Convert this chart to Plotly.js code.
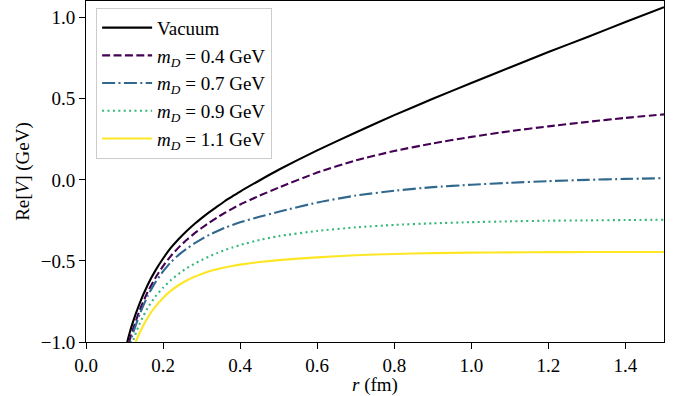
<!DOCTYPE html>
<html>
<head>
<meta charset="utf-8">
<script src="https://cdn.plot.ly/plotly-3.0.1.min.js"></script>
<style>html,body{margin:0;padding:0;background:#fff;}#chart{width:688px;height:396px;}</style>
</head>
<body>
<div id="chart"></div>
<script>
// Data
const seriesNames = ["Vacuum", "<i>m</i><sub><i>D</i></sub> = 0.4 GeV", "<i>m</i><sub><i>D</i></sub> = 0.7 GeV", "<i>m</i><sub><i>D</i></sub> = 0.9 GeV", "<i>m</i><sub><i>D</i></sub> = 1.1 GeV"];

const rVacuum = [0.1, 0.11, 0.12, 0.14, 0.16, 0.18, 0.2, 0.22, 0.24, 0.26, 0.28, 0.3, 0.32, 0.34, 0.36, 0.38, 0.4, 0.45, 0.5, 0.6, 0.7, 0.8, 0.9, 1.0, 1.1, 1.2, 1.3, 1.4, 1.5];
const vVacuum = [-1.071, -0.973, -0.89, -0.757, -0.648, -0.56, -0.485, -0.42, -0.366, -0.318, -0.275, -0.236, -0.199, -0.165, -0.132, -0.102, -0.072, -0.004, 0.062, 0.182, 0.292, 0.399, 0.5, 0.597, 0.693, 0.788, 0.88, 0.973, 1.065];

const rM04 = [0.105, 0.1126, 0.12, 0.14, 0.16, 0.18, 0.2, 0.22, 0.24, 0.26, 0.28, 0.3, 0.32, 0.34, 0.36, 0.38, 0.4, 0.45, 0.5, 0.6, 0.7, 0.8, 0.9, 1.0, 1.1, 1.2, 1.3, 1.4, 1.5];
const vM04 = [-1.07, -0.995, -0.935, -0.8, -0.692, -0.605, -0.532, -0.47, -0.418, -0.373, -0.333, -0.297, -0.264, -0.233, -0.204, -0.177, -0.152, -0.098, -0.048, 0.045, 0.12, 0.178, 0.225, 0.265, 0.3, 0.33, 0.357, 0.382, 0.404];

const rM07 = [0.108, 0.116, 0.12, 0.14, 0.16, 0.18, 0.2, 0.22, 0.24, 0.26, 0.28, 0.3, 0.32, 0.34, 0.36, 0.38, 0.4, 0.45, 0.5, 0.6, 0.7, 0.8, 0.9, 1.0, 1.1, 1.2, 1.3, 1.4, 1.5];
const vM07 = [-1.07, -0.995, -0.96, -0.825, -0.716, -0.632, -0.565, -0.508, -0.464, -0.427, -0.394, -0.365, -0.339, -0.317, -0.296, -0.278, -0.262, -0.228, -0.197, -0.14, -0.097, -0.067, -0.045, -0.03, -0.018, -0.008, 0.0, 0.006, 0.01];

const rM09 = [0.115, 0.12, 0.14, 0.16, 0.18, 0.2, 0.22, 0.24, 0.26, 0.28, 0.3, 0.32, 0.34, 0.36, 0.38, 0.4, 0.45, 0.5, 0.6, 0.7, 0.8, 0.9, 1.0, 1.1, 1.2, 1.3, 1.4, 1.5];
const vM09 = [-1.05, -1.006, -0.882, -0.79, -0.72, -0.665, -0.619, -0.58, -0.547, -0.519, -0.495, -0.472, -0.452, -0.433, -0.417, -0.402, -0.371, -0.347, -0.315, -0.293, -0.278, -0.268, -0.261, -0.256, -0.252, -0.25, -0.248, -0.246];

const rM11 = [0.125, 0.13, 0.14, 0.16, 0.18, 0.2, 0.22, 0.24, 0.26, 0.28, 0.3, 0.32, 0.34, 0.36, 0.38, 0.4, 0.45, 0.5, 0.6, 0.7, 0.8, 0.9, 1.0, 1.1, 1.2, 1.3, 1.4, 1.5];
const vM11 = [-1.03, -0.995, -0.94, -0.85, -0.782, -0.728, -0.685, -0.65, -0.622, -0.599, -0.58, -0.564, -0.551, -0.54, -0.531, -0.523, -0.507, -0.495, -0.478, -0.465, -0.457, -0.452, -0.449, -0.447, -0.446, -0.445, -0.445, -0.445];

const xTicks = [0.0, 0.2, 0.4, 0.6, 0.8, 1.0, 1.2, 1.4];
const yTicks = [-1.0, -0.5, 0.0, 0.5, 1.0];

const rs = [rVacuum, rM04, rM07, rM09, rM11];
const vs = [vVacuum, vM04, vM07, vM09, vM11];
const colors = ["#000000", "#440154", "#31688e", "#35b779", "#fde725"];
const dashes = ["solid", "8px,3.4px", "13px,3.4px,2px,3.4px", "2px,3.4px", "solid"];

const font = "Liberation Serif, DejaVu Serif, serif";

const traces = rs.map((r, i) => ({
  x: r, y: vs[i], type: "scatter", mode: "lines",
  name: seriesNames[i], legendgroup: "g" + i,
  line: {color: colors[i], width: 2.1, dash: dashes[i], shape: "spline", smoothing: 0.5}
}));

const layout = {
  width: 688, height: 396,
  margin: {l: 86, r: 24, t: 1, b: 54},
  paper_bgcolor: "#fff", plot_bgcolor: "#fff",
  font: {family: font, size: 19, color: "#000"},
  showlegend: true,
  legend: {
    x: 0.0175, y: 0.98, xanchor: "left", yanchor: "top",
    bgcolor: "rgba(255,255,255,0.9)", bordercolor: "#cccccc", borderwidth: 1,
    font: {family: font, size: 19, color: "#000"},
    tracegroupgap: 0, itemwidth: 50
  },
  xaxis: {
    range: [0, 1.5], tickvals: xTicks, ticktext: xTicks.map(v => v.toFixed(1)),
    showgrid: false, zeroline: false, showline: true, mirror: true,
    linecolor: "#000", linewidth: 1, ticks: "outside", ticklen: 6, tickcolor: "#000",
    tickfont: {family: font, size: 19},
    title: {text: "<i>r</i> (fm)", font: {family: font, size: 19}, standoff: 2}
  },
  yaxis: {
    range: [-1, 1.103], tickvals: yTicks, ticktext: yTicks.map(v => (v < 0 ? "\u2212" : "") + Math.abs(v).toFixed(1)),
    showgrid: false, zeroline: false, showline: true, mirror: true,
    linecolor: "#000", linewidth: 1, ticks: "outside", ticklen: 6, tickcolor: "#000",
    tickfont: {family: font, size: 19},
    title: {text: "Re[<i>V</i>] (GeV)", font: {family: font, size: 19}, standoff: 6}
  }
};

Plotly.newPlot("chart", traces, layout, {displayModeBar: false, staticPlot: true});
</script>
</body>
</html>
